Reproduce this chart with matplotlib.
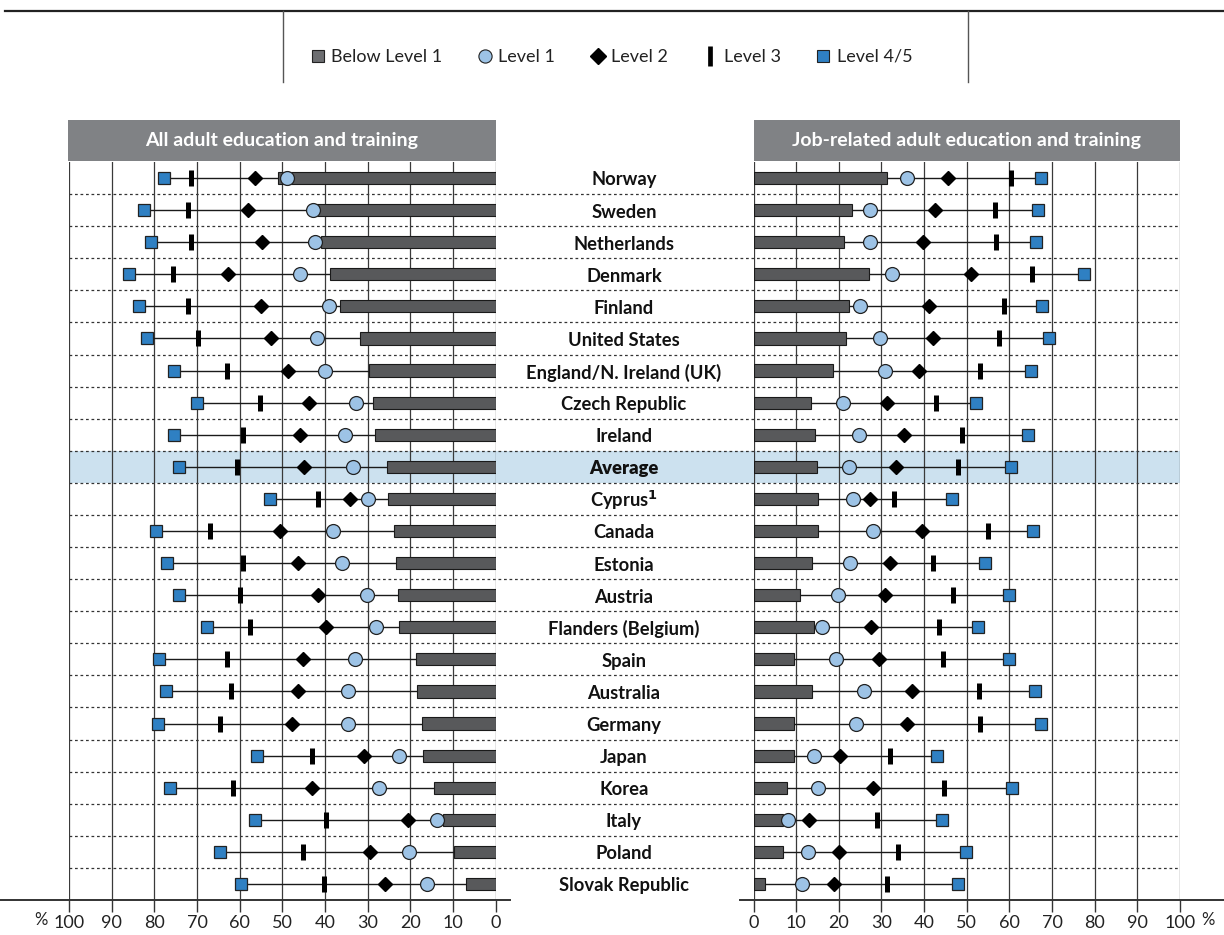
import matplotlib.pyplot as plt
from matplotlib.lines import Line2D
import numpy as np

plt.rcParams['font.family'] = ['Lato', 'DejaVu Sans']

countries = [
    'Norway', 'Sweden', 'Netherlands', 'Denmark', 'Finland', 'United States',
    'England/N. Ireland (UK)', 'Czech Republic', 'Ireland', 'Average',
    'Cyprus$^{\\mathbf{1}}$', 'Canada', 'Estonia', 'Austria', 'Flanders (Belgium)',
    'Spain', 'Australia', 'Germany', 'Japan', 'Korea', 'Italy', 'Poland',
    'Slovak Republic',
]
average_idx = 9

# participation rate (%) in all adult education and training, by literacy level
all_below1 = [50.9, 42.0, 40.8, 38.8, 36.5, 31.8, 29.6, 28.7, 28.2, 25.5, 25.1, 23.7,
              23.4, 22.8, 22.6, 18.7, 18.5, 17.3, 17.0, 14.5, 12.4, 9.8, 6.9]
all_level1 = [48.9, 42.7, 42.3, 45.9, 39.1, 41.9, 40.0, 32.8, 35.3, 33.5, 30.0, 38.2,
              36.1, 30.1, 28.0, 33.0, 34.5, 34.5, 22.7, 27.2, 13.6, 20.2, 16.1]
all_level2 = [56.4, 58.0, 54.8, 62.7, 55.0, 52.7, 48.6, 43.7, 45.9, 45.0, 34.1, 50.5,
              46.3, 41.6, 39.8, 45.1, 46.4, 47.7, 30.9, 43.1, 20.5, 29.4, 25.9]
all_level3 = [71.3, 72.0, 71.4, 75.5, 72.0, 69.7, 63.0, 55.2, 59.2, 60.6, 41.6, 67.0,
              59.3, 60.0, 57.5, 63.0, 62.0, 64.7, 43.1, 61.6, 39.8, 45.2, 40.2]
all_level45 = [77.7, 82.4, 80.8, 85.9, 83.5, 81.6, 75.3, 70.1, 75.3, 74.2, 52.9, 79.5,
               77.1, 74.1, 67.7, 78.8, 77.2, 79.2, 56.0, 76.4, 56.3, 64.5, 59.7]

# participation rate (%) in job-related adult education and training
job_below1 = [31.2, 23.1, 21.3, 27.0, 22.5, 21.6, 18.6, 13.4, 14.4, 14.9, 15.2, 15.1,
              13.7, 10.9, 14.1, 9.4, 13.8, 9.6, 9.6, 7.9, 7.0, 7.0, 2.8]
job_level1 = [35.9, 27.3, 27.4, 32.4, 25.0, 29.7, 30.9, 21.1, 24.8, 22.5, 23.3, 28.0,
              22.6, 19.7, 16.0, 19.3, 25.9, 24.1, 14.1, 15.2, 8.0, 12.8, 11.3]
job_level2 = [45.6, 42.5, 39.8, 50.9, 41.1, 42.0, 38.8, 31.3, 35.2, 33.3, 27.2, 39.6,
              31.9, 30.9, 27.5, 29.5, 37.2, 35.9, 20.3, 28.0, 13.0, 20.1, 18.8]
job_level3 = [60.4, 56.6, 56.8, 65.3, 58.7, 57.6, 53.2, 42.7, 48.8, 48.0, 33.0, 55.0,
              42.0, 46.8, 43.5, 44.4, 52.8, 53.0, 32.0, 44.6, 28.9, 33.8, 31.4]
job_level45 = [67.5, 66.8, 66.2, 77.5, 67.7, 69.3, 65.0, 52.1, 64.4, 60.4, 46.5, 65.5,
               54.2, 59.8, 52.7, 59.8, 66.0, 67.4, 43.0, 60.7, 44.1, 49.8, 48.0]

BAR_C = '#58595b'
L1_C = '#9dc3e6'
L45_C = '#2f80c3'
HEAD_C = '#808285'
BAND_C = '#cce1ef'

W, H = 1224, 935
fig = plt.figure(figsize=(W / 100, H / 100), dpi=100)


def fx(px):
    return px / W


def fy(py):
    return 1 - py / H


n = len(countries)
rows = np.arange(n)
ylim = (n - 0.5, -0.5)
top, bottom = 162, 900

# background strip: row separators, highlighted average, country names
bg = fig.add_axes([fx(69), fy(bottom), fx(1180) - fx(69), (bottom - top) / H])
bg.set_xlim(0, 1)
bg.set_ylim(*ylim)
bg.axis('off')
bg.axhspan(average_idx - 0.5, average_idx + 0.5, color=BAND_C, lw=0, zorder=0)
bg.hlines(rows[:-1] + 0.5, 0, 1, colors='#333333', lw=0.9, linestyles=(0, (2.2, 2.2)), zorder=1)
cx = (624 - 69) / (1180 - 69)
for i, name in enumerate(countries):
    bg.text(cx, i + 0.06, name, ha='center', va='center', fontsize=13.2,
            fontweight='heavy' if i == average_idx else 'bold', color='#111111')


def draw_panel(ax, below, l1, l2, l3, l45):
    ax.hlines(rows, below, l45, colors='#1a1a1a', lw=1, zorder=2)
    ax.barh(rows, below, height=0.38, color=BAR_C, edgecolor='#1a1a1a', lw=0.8, zorder=3)
    ax.plot(l3, rows, ls='none', marker='|', ms=12, mew=3.6, color='black', zorder=4)
    ax.plot(l2, rows, ls='none', marker='D', ms=7.5, color='black', zorder=5)
    ax.plot(l1, rows, ls='none', marker='o', ms=10, mfc=L1_C, mec='#222222', mew=0.9, zorder=6)
    ax.plot(l45, rows, ls='none', marker='s', ms=8.5, mfc=L45_C, mec='#222222', mew=0.9, zorder=6)
    ax.set_ylim(*ylim)
    ax.set_yticks([])
    ax.set_xticks(range(0, 101, 10))
    ax.set_xticklabels([str(v) for v in range(0, 101, 10)], fontsize=13, color='#222222')
    ax.grid(axis='x', color='#3a3a3a', lw=0.9, zorder=1)
    ax.set_axisbelow(True)
    ax.tick_params(axis='x', direction='out', length=8.5, width=1, pad=2.5, color='#333333')
    for s in ax.spines.values():
        s.set_visible(False)
    ax.patch.set_alpha(0)


axL = fig.add_axes([fx(69), fy(bottom), fx(495.5) - fx(69), (bottom - top) / H])
axL.set_xlim(100, 0)
draw_panel(axL, all_below1, all_level1, all_level2, all_level3, all_level45)

axR = fig.add_axes([fx(753.5), fy(bottom), fx(1180) - fx(753.5), (bottom - top) / H])
axR.set_xlim(0, 100)
draw_panel(axR, job_below1, job_level1, job_level2, job_level3, job_level45)

fig.text(fx(41), fy(920), '%', ha='center', va='center', fontsize=12, color='#222222')
fig.text(fx(1208), fy(920), '%', ha='center', va='center', fontsize=12, color='#222222')

# panel headers
for x0, x1, title in [(68, 495.5, 'All adult education and training'),
                      (753.5, 1180, 'Job-related adult education and training')]:
    hd = fig.add_axes([fx(x0), fy(161), fx(x1) - fx(x0), 41 / H])
    hd.set_facecolor(HEAD_C)
    hd.set_xticks([])
    hd.set_yticks([])
    for s in hd.spines.values():
        s.set_visible(False)
    hd.text(0.5, 0.5, title, ha='center', va='center', color='white',
            fontsize=14, fontweight='bold', transform=hd.transAxes)

# rules around the legend and along the bottom
fig.add_artist(Line2D([fx(5), 1], [fy(11), fy(11)], color='#222222', lw=1.6))
for xv in (283, 968):
    fig.add_artist(Line2D([fx(xv), fx(xv)], [fy(11), fy(82)], color='#555555', lw=1))
fig.add_artist(Line2D([0, fx(510)], [fy(899.5), fy(899.5)], color='#333333', lw=1.4))
fig.add_artist(Line2D([fx(740), 1], [fy(899.5), fy(899.5)], color='#333333', lw=1.4))

handles = [
    Line2D([], [], ls='none', marker='s', ms=8.5, mfc='#6d6e71', mec='#222222', mew=0.8),
    Line2D([], [], ls='none', marker='o', ms=9.5, mfc=L1_C, mec='#222222', mew=0.8),
    Line2D([], [], ls='none', marker='D', ms=8, color='black'),
    Line2D([], [], ls='none', marker='|', ms=15, mew=3.4, color='black'),
    Line2D([], [], ls='none', marker='s', ms=8.5, mfc=L45_C, mec='#222222', mew=0.8),
]
labels = ['Below Level 1', 'Level 1', 'Level 2', 'Level 3', 'Level 4/5']
fig.legend(handles, labels, loc='center', bbox_to_anchor=(fx(611), fy(57)), ncol=5,
           frameon=False, handlelength=0.9, handletextpad=0.3, columnspacing=1.9,
           fontsize=13, labelcolor='#222222')

fig.savefig('out.png', dpi=100)
